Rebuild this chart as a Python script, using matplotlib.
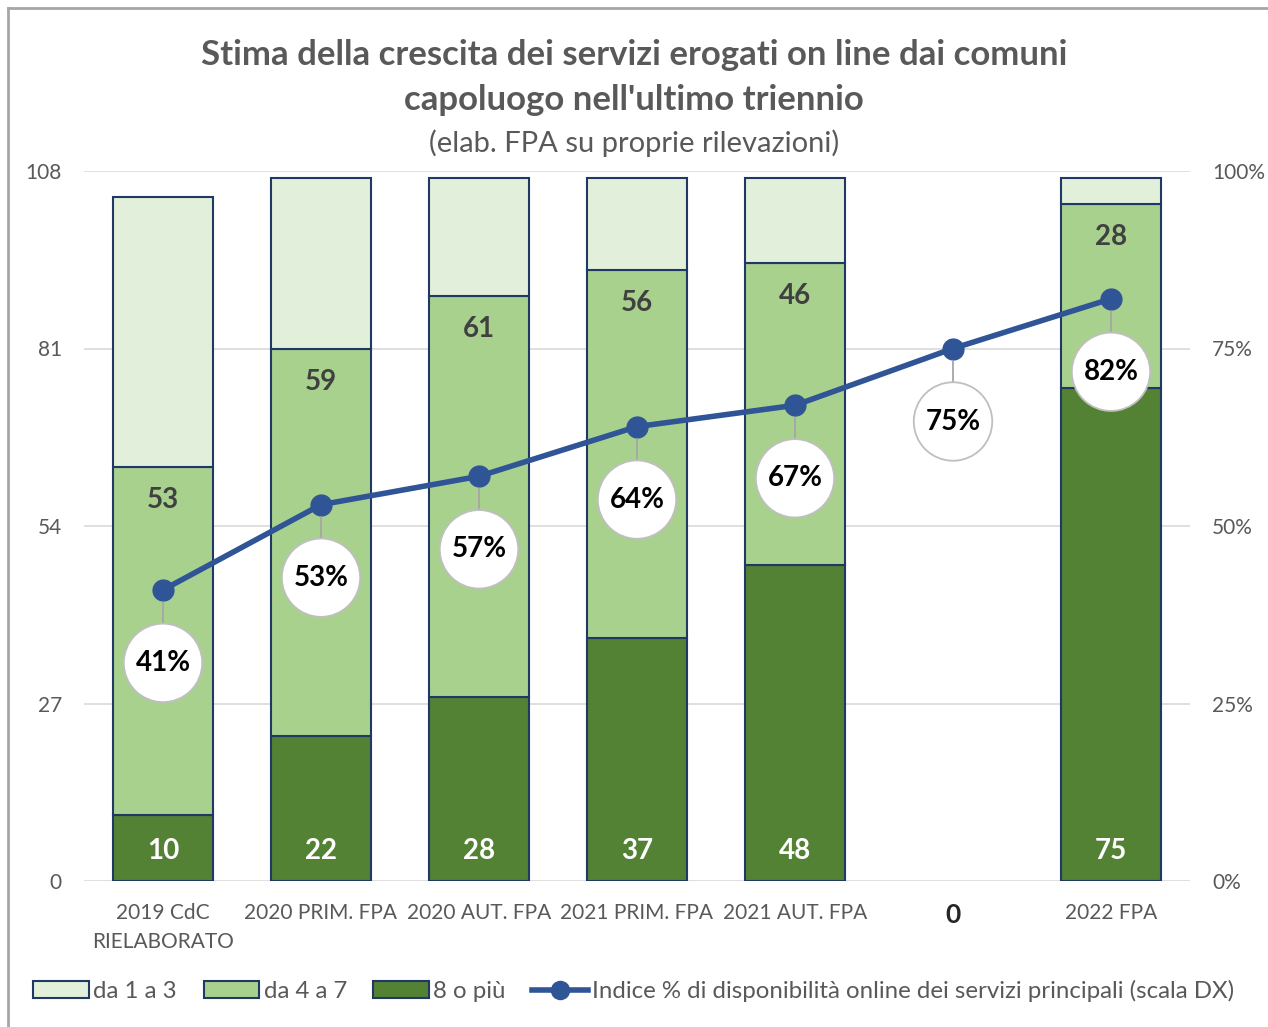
import numpy as np
import matplotlib.pyplot as plt
from matplotlib.patches import Patch
from matplotlib.lines import Line2D

plt.rcParams['font.family'] = ['Lato', 'DejaVu Sans']

categories = ["2019 CdC\nRIELABORATO", "2020 PRIM. FPA", "2020 AUT. FPA",
              "2021 PRIM. FPA", "2021 AUT. FPA", "0", "2022 FPA"]
otto_piu = [10, 22, 28, 37, 48, 0, 75]
da4a7 = [53, 59, 61, 56, 46, 0, 28]
da1a3 = [41, 26, 18, 14, 13, 0, 4]
indice = [0.41, 0.53, 0.57, 0.64, 0.67, 0.75, 0.82]

c_light = "#E2EFDA"
c_mid = "#A9D18E"
c_dark = "#548235"
c_edge = "#1F3864"
c_line = "#2F5597"
c_text = "#595959"

fig = plt.figure(figsize=(12.68, 10.27), dpi=100)
ax = fig.add_axes([84 / 1268, 1 - 881 / 1027, 1106 / 1268, 710 / 1027])
x = np.arange(len(categories))
w = 0.633

dark = np.array(otto_piu)
mid = np.array(da4a7)
light = np.array(da1a3)
shown = [i for i in range(len(x)) if dark[i] + mid[i] + light[i] > 0]
xs = x[shown]
ax.bar(xs, dark[shown], w, color=c_dark, edgecolor=c_edge, linewidth=1.5, zorder=2)
ax.bar(xs, mid[shown], w, bottom=dark[shown], color=c_mid, edgecolor=c_edge, linewidth=1.5, zorder=2)
ax.bar(xs, light[shown], w, bottom=(dark + mid)[shown], color=c_light, edgecolor=c_edge, linewidth=1.5, zorder=2)

for i in shown:
    ax.annotate(str(dark[i]), (x[i], 0), xytext=(0, 30), textcoords='offset pixels',
                ha='center', va='center', fontsize=20, fontweight='bold', color='white', zorder=5)
    ax.annotate(str(mid[i]), (x[i], dark[i] + mid[i]), xytext=(0, -33), textcoords='offset pixels',
                ha='center', va='center', fontsize=20, fontweight='bold', color='#404040', zorder=5)

ax.set_xlim(-0.5, len(x) - 0.5)
ax.set_ylim(0, 108)
ax.set_yticks([0, 27, 54, 81, 108])
ax.grid(axis='y', color='#D9D9D9', linewidth=1.2, zorder=0)
ax.set_axisbelow(True)
for s in ax.spines.values():
    s.set_visible(False)
ax.tick_params(length=0, labelsize=15, labelcolor=c_text, pad=16)
ax.tick_params(axis='y', pad=16)
ax.set_xticks(x)
ax.set_xticklabels(categories, linespacing=1.55)
for lbl in ax.get_xticklabels():
    if lbl.get_text() == "0":
        lbl.set_fontweight('bold')
        lbl.set_fontsize(19)
        lbl.set_color('#262626')

ax2 = ax.twinx()
ax2.set_ylim(0, 1)
ax2.set_yticks([0, 0.25, 0.5, 0.75, 1.0])
ax2.set_yticklabels(["0%", "25%", "50%", "75%", "100%"])
ax2.tick_params(length=0, labelsize=15, labelcolor=c_text, pad=16)
for s in ax2.spines.values():
    s.set_visible(False)
ax2.plot(x, indice, color=c_line, linewidth=4, marker='o', markersize=15, zorder=4)
for i, v in enumerate(indice):
    ax2.annotate(f"{v:.0%}", (x[i], v), xytext=(0, -73), textcoords='offset pixels',
                 ha='center', va='center', fontsize=20, fontweight='bold', color='black',
                 bbox=dict(boxstyle='circle,pad=0.42', fc='white', ec='#BFBFBF', lw=1.3),
                 arrowprops=dict(arrowstyle='-', color='#A6A6A6', lw=1.3, shrinkA=0, shrinkB=9),
                 zorder=6)

fig.text(0.5, 1 - 55 / 1027, "Stima della crescita dei servizi erogati on line dai comuni",
         ha='center', va='center', fontsize=25, fontweight='bold', color=c_text)
fig.text(0.5, 1 - 100 / 1027, "capoluogo nell'ultimo triennio",
         ha='center', va='center', fontsize=25, fontweight='bold', color=c_text)
fig.text(0.5, 1 - 143 / 1027, "(elab. FPA su proprie rilevazioni)",
         ha='center', va='center', fontsize=21, color=c_text)

handles = [Patch(facecolor=c_light, edgecolor=c_edge, linewidth=1.5, label="da 1 a 3"),
           Patch(facecolor=c_mid, edgecolor=c_edge, linewidth=1.5, label="da 4 a 7"),
           Patch(facecolor=c_dark, edgecolor=c_edge, linewidth=1.5, label="8 o più"),
           Line2D([], [], color=c_line, linewidth=4, marker='o', markersize=13,
                  label="Indice % di disponibilità online dei servizi principali (scala DX)")]
fig.legend(handles=handles, loc='center', bbox_to_anchor=(0.5, 1 - 991 / 1027), ncol=4,
           frameon=False, fontsize=17.3, labelcolor=c_text, handlelength=2.3, handletextpad=0.2,
           columnspacing=1.1)

fig.add_artist(Line2D([8 / 1268, 8 / 1268], [0, 1 - 8 / 1027], transform=fig.transFigure,
                      color='#A6A6A6', linewidth=2))
fig.add_artist(Line2D([8 / 1268, 1], [1 - 8 / 1027, 1 - 8 / 1027], transform=fig.transFigure,
                      color='#A6A6A6', linewidth=2))

fig.savefig("out.png", dpi=100)
